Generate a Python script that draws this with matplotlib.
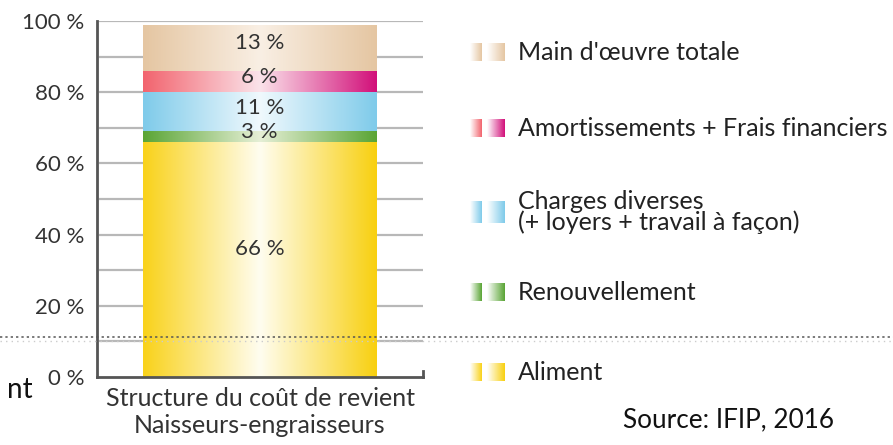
import numpy as np
import matplotlib
matplotlib.use("Agg")
import matplotlib.pyplot as plt
from matplotlib.colors import LinearSegmentedColormap

# data (bottom -> top)
categories = ["Aliment", "Renouvellement", "Charges diverses\n(+ loyers + travail à façon)",
              "Amortissements + Frais financiers", "Main d'œuvre totale"]
values = [66, 3, 11, 6, 13]
value_labels = ["66 %", "3 %", "11 %", "6 %", "13 %"]
bar_name = "Structure du coût de revient\nNaisseurs-engraisseurs"
yticks = [0, 20, 40, 60, 80, 100]
source = "Source: IFIP, 2016"

# gradient stops: left edge, centre, right edge
grad_colors = [
    ["#f9d21a", "#fffdf0", "#f8d010"],
    ["#5aa535", "#e6efd6", "#5aa535"],
    ["#7fcbea", "#f0f9fd", "#7fcbea"],
    ["#f2646e", "#fbe3ea", "#d2107a"],
    ["#e5c6a2", "#f9efe4", "#e5c6a2"],
]
cmaps = [LinearSegmentedColormap.from_list(f"c{i}", c) for i, c in enumerate(grad_colors)]

plt.rcParams['font.family'] = ['Lato', 'DejaVu Sans']
W, H = 893, 445
fig = plt.figure(figsize=(W / 100, H / 100), dpi=100)

ax = fig.add_axes([97 / W, 1 - 377 / H, 326 / W, 356 / H])
bottoms = np.concatenate([[0], np.cumsum(values)[:-1]])
bars = ax.bar(0, values, bottom=bottoms, width=0.715, color='none', zorder=2)

grad = np.linspace(0, 1, 256).reshape(1, -1)
for patch, cmap in zip(bars, cmaps):
    x0, y0 = patch.get_x(), patch.get_y()
    w, h = patch.get_width(), patch.get_height()
    im = ax.imshow(grad, cmap=cmap, extent=[x0, x0 + w, y0, y0 + h],
                   aspect='auto', zorder=2, interpolation='bilinear')
    im.set_clip_path(patch)

for b, v, lab in zip(bottoms, values, value_labels):
    yy = b + v / 2 + (3 if v > 50 else 1.2)
    ax.text(0, yy, lab, ha='center', va='center', fontsize=16, color='#333333', zorder=3)

ax.set_xlim(-0.4985, 0.5015)
ax.set_ylim(0, 100)
ax.set_yticks(yticks)
ax.set_yticklabels([f"{t} %" for t in yticks], fontsize=16, color='#333333')
ax.tick_params(axis='y', length=0, pad=9)
ax.set_xticks([])
for y in range(10, 101, 10):
    ax.axhline(y, xmin=0.01, xmax=1.0, color='#b8b8b8', lw=1.6, zorder=1)
for s in ['top', 'right']:
    ax.spines[s].set_visible(False)
for s in ['left', 'bottom']:
    ax.spines[s].set_color('#555555')
    ax.spines[s].set_linewidth(2)
ax.plot([1, 1], [0, 0.018], transform=ax.transAxes, color='#555555', lw=2, clip_on=False)
ax.set_xlabel(bar_name, fontsize=18, color='#333333', labelpad=7, linespacing=1.25)

# overlay for legend and annotations (pixel coordinates)
lax = fig.add_axes([0, 0, 1, 1])
lax.axis('off')

legend_y = [372, 292, 212, 128, 52]
sw = np.linspace(0, 1, 64).reshape(1, -1)
for cat, c, ly in zip(categories, grad_colors, legend_y):
    left = LinearSegmentedColormap.from_list("l", ["#ffffff", c[0]])
    right = LinearSegmentedColormap.from_list("r", ["#ffffff", c[2]])
    hh = 11 if "\n" in cat else 9
    lax.imshow(sw, cmap=left, extent=[470, 482, ly + hh, ly - hh], aspect='auto')
    lax.imshow(sw, cmap=right, extent=[487, 505, ly + hh, ly - hh], aspect='auto')
    lax.text(518, ly, cat, ha='left', va='center', fontsize=18, color='#222222',
             linespacing=0.82)
lax.set_xlim(0, W)
lax.set_ylim(H, 0)

lax.plot([0, W], [337, 337], ls=(0, (1.5, 2)), color='#555555', lw=1.1)
lax.plot([0, W], [341, 341], ls=(0, (1, 3)), color='#cccccc', lw=1)

lax.text(623, 420, source, ha='left', va='center', fontsize=18.8, color='#111111')
lax.text(33, 398, "nt", ha='right', va='baseline', fontsize=20, color='#111111')

fig.savefig("out.png", dpi=100, facecolor='white')
